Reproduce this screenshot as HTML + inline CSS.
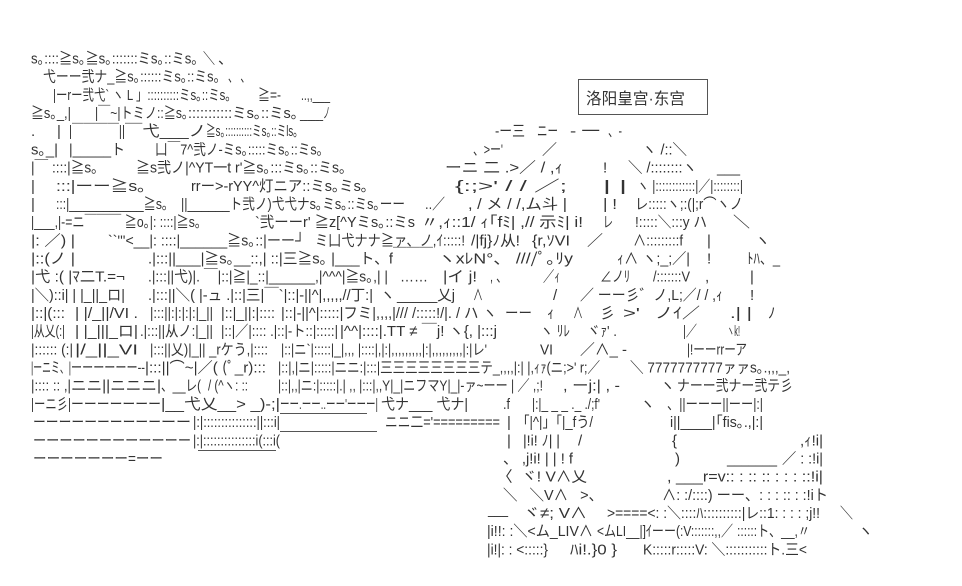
<!DOCTYPE html>
<html><head><meta charset="utf-8"><style>
html,body{margin:0;padding:0;background:#fff;width:962px;height:586px;overflow:hidden}
svg{display:block}
text{font-family:"Liberation Sans","Noto Sans CJK JP",sans-serif;font-size:15px;fill:#333;white-space:pre}
.b{font-family:"Liberation Sans","Noto Sans CJK SC",sans-serif;font-size:16px;fill:#333}
</style></head><body>
<svg width="962" height="586" viewBox="0 0 962 586" xmlns="http://www.w3.org/2000/svg">
<rect width="962" height="586" fill="#fff"/>
<rect x="578.5" y="79.5" width="129" height="35" fill="none" stroke="#555" stroke-width="1"/>
<text class="b" x="586" y="104" textLength="99" lengthAdjust="spacingAndGlyphs">洛阳皇宫·东宫</text>

<text x="31" y="63.5" textLength="167" lengthAdjust="spacingAndGlyphs">s｡::::≧s｡≧s｡:::::::ミs｡::ミs｡</text>
<text x="203" y="63.5" textLength="12" lengthAdjust="spacingAndGlyphs">＼</text>
<text x="218" y="63.5">、</text>
<text x="43" y="81.7" textLength="177" lengthAdjust="spacingAndGlyphs">弋ーー弐ナ_≧s｡::::::ミs｡::ミs｡</text>
<text x="228" y="81.7" textLength="22" lengthAdjust="spacingAndGlyphs">、 、</text>
<text x="53" y="99.9" textLength="178" lengthAdjust="spacingAndGlyphs">|ーrー弐弋` ヽ L 」::::::::::ミs｡::ミs｡</text>
<text x="258" y="99.9" textLength="23" lengthAdjust="spacingAndGlyphs">≧=-</text>
<text x="301" y="99.9" textLength="29" lengthAdjust="spacingAndGlyphs">..,,___</text>
<text x="31" y="118" textLength="40" lengthAdjust="spacingAndGlyphs">≧s｡_,|</text>
<text x="95" y="118" textLength="93" lengthAdjust="spacingAndGlyphs">|￣~|トミノ::≧s｡</text>
<text x="188" y="118" textLength="110" lengthAdjust="spacingAndGlyphs">:::::::::::ミs｡::ミs｡</text>
<text x="300" y="118" textLength="30" lengthAdjust="spacingAndGlyphs">______ノ</text>
<text x="31" y="136.2">.</text>
<text x="57" y="136.2">|</text>
<text x="69" y="136.2" textLength="56" lengthAdjust="spacingAndGlyphs">|￣￣￣￣||</text>
<text x="125" y="136.2" textLength="81" lengthAdjust="spacingAndGlyphs">￣弋___ノ</text>
<text x="206" y="136.2" textLength="92" lengthAdjust="spacingAndGlyphs">≧s｡::::::::::ミs｡::ミls｡</text>
<text x="495" y="136.2" textLength="30" lengthAdjust="spacingAndGlyphs">-ー三</text>
<text x="537" y="136.2" textLength="21" lengthAdjust="spacingAndGlyphs">ニー</text>
<text x="570" y="136.2" textLength="30" lengthAdjust="spacingAndGlyphs">- 一</text>
<text x="608" y="136.2" textLength="14" lengthAdjust="spacingAndGlyphs">、-</text>
<text x="31" y="154.4" textLength="27" lengthAdjust="spacingAndGlyphs">s｡_|</text>
<text x="69" y="154.4" textLength="56" lengthAdjust="spacingAndGlyphs">|_____ト</text>
<text x="155" y="154.4" textLength="168" lengthAdjust="spacingAndGlyphs">凵￣7^弐ノ-ミs｡:::::ミs｡::ミs｡</text>
<text x="473" y="154.4" textLength="30" lengthAdjust="spacingAndGlyphs">、&gt;ー'</text>
<text x="542" y="154.4" textLength="15" lengthAdjust="spacingAndGlyphs">／</text>
<text x="642" y="154.4" textLength="45" lengthAdjust="spacingAndGlyphs">ヽ /::＼</text>
<text x="31" y="172.6" textLength="67" lengthAdjust="spacingAndGlyphs">|￣ ::::|≧s｡</text>
<text x="136" y="172.6" textLength="210" lengthAdjust="spacingAndGlyphs">≧s弐ノ|^YT一t r'≧s｡:::ミs｡::ミs｡</text>
<text x="445" y="172.6" textLength="118" lengthAdjust="spacingAndGlyphs">ーニ 二 .&gt;／ / ,ｨ</text>
<text x="603" y="172.6">!</text>
<text x="628" y="172.6" textLength="69" lengthAdjust="spacingAndGlyphs">＼ /::::::::ヽ</text>
<text x="717" y="172.6" textLength="23" lengthAdjust="spacingAndGlyphs">___</text>
<text x="31" y="190.8">|</text>
<text x="56" y="190.8" textLength="90" lengthAdjust="spacingAndGlyphs">:::|ーー≧s｡</text>
<text x="191" y="190.8" textLength="177" lengthAdjust="spacingAndGlyphs">rrー&gt;-rYY^灯ニア::ミs｡ミs｡</text>
<text x="455" y="190.8" textLength="112" lengthAdjust="spacingAndGlyphs">{:;&gt;' / / ／;</text>
<text x="603" y="190.8" textLength="24" lengthAdjust="spacingAndGlyphs">| |</text>
<text x="637" y="190.8" textLength="106" lengthAdjust="spacingAndGlyphs">ヽ |::::::::::::|／|::::::::|</text>
<text x="31" y="208.9">|</text>
<text x="56" y="208.9" textLength="112" lengthAdjust="spacingAndGlyphs">:::|___________≧s｡</text>
<text x="181" y="208.9" textLength="224" lengthAdjust="spacingAndGlyphs">||______ト弐ノ)弋弋ナs｡ミs｡::ミs｡ーー</text>
<text x="425" y="208.9" textLength="20" lengthAdjust="spacingAndGlyphs">..／</text>
<text x="468" y="208.9" textLength="99" lengthAdjust="spacingAndGlyphs">, / メ / /,ム斗 |</text>
<text x="603" y="208.9" textLength="14" lengthAdjust="spacingAndGlyphs">| !</text>
<text x="635" y="208.9" textLength="108" lengthAdjust="spacingAndGlyphs">レ:::::ヽ;:(|;r⌒ヽノ</text>
<text x="31" y="227.1" textLength="170" lengthAdjust="spacingAndGlyphs">|___,|-=ニ￣￣￣ ≧o｡|: ::::|≧s｡</text>
<text x="255" y="227.1" textLength="160" lengthAdjust="spacingAndGlyphs">`弐ーーr' ≧z[^Yミs｡::ミs</text>
<text x="421" y="227.1" textLength="162" lengthAdjust="spacingAndGlyphs">〃,ｨ::1/ ｨ｢fﾐ| ,// 示ﾐ| i!</text>
<text x="603" y="227.1" textLength="10" lengthAdjust="spacingAndGlyphs">レ</text>
<text x="635" y="227.1" textLength="72" lengthAdjust="spacingAndGlyphs">!:::::＼:::y ハ</text>
<text x="733" y="227.1" textLength="17" lengthAdjust="spacingAndGlyphs">＼</text>
<text x="31" y="245.3" textLength="44" lengthAdjust="spacingAndGlyphs">|: ／) |</text>
<text x="108" y="245.3" textLength="197" lengthAdjust="spacingAndGlyphs">``'''&lt;__|: ::::|______≧s｡::|ーー┘</text>
<text x="315" y="245.3" textLength="150" lengthAdjust="spacingAndGlyphs">ミ凵弋ナナ≧ァ、ノ,ｲ:::::!</text>
<text x="471" y="245.3" textLength="49" lengthAdjust="spacingAndGlyphs">/|fj}ﾉ从!</text>
<text x="532" y="245.3" textLength="38" lengthAdjust="spacingAndGlyphs">{r,ｿVI</text>
<text x="587" y="245.3" textLength="16" lengthAdjust="spacingAndGlyphs">／</text>
<text x="633" y="245.3" textLength="50" lengthAdjust="spacingAndGlyphs">∧:::::::::f</text>
<text x="707" y="245.3">|</text>
<text x="755" y="245.3">ヽ</text>
<text x="31" y="263.5" textLength="44" lengthAdjust="spacingAndGlyphs">|::(ノ |</text>
<text x="148" y="263.5" textLength="245" lengthAdjust="spacingAndGlyphs">.|:::||___|≧s｡__::,| ::|三≧s｡ |___ト、f</text>
<text x="393" y="260" textLength="40" lengthAdjust="spacingAndGlyphs">￣￣￣</text>
<text x="438" y="263.5" textLength="135" lengthAdjust="spacingAndGlyphs">ヽxﾚN°、 ////ﾟ｡ﾘy</text>
<text x="617" y="263.5" textLength="73" lengthAdjust="spacingAndGlyphs">ｨ∧ ヽ;_;／|</text>
<text x="707" y="263.5">!</text>
<text x="747" y="263.5" textLength="33" lengthAdjust="spacingAndGlyphs">ﾄﾊ、_</text>
<text x="31" y="281.7" textLength="94" lengthAdjust="spacingAndGlyphs">|弋 :( |ﾏ二T.=¬</text>
<text x="148" y="281.7" textLength="240" lengthAdjust="spacingAndGlyphs">.|:::||弋)|. ￣|::|≧|_::|______,|^^^|≧s｡,| |</text>
<text x="400" y="281.7" textLength="28" lengthAdjust="spacingAndGlyphs">……</text>
<text x="443" y="281.7" textLength="34" lengthAdjust="spacingAndGlyphs">|イ j!</text>
<text x="490" y="281.7" textLength="17" lengthAdjust="spacingAndGlyphs">, 、</text>
<text x="543" y="281.7" textLength="17" lengthAdjust="spacingAndGlyphs">／ｨ</text>
<text x="600" y="281.7" textLength="30" lengthAdjust="spacingAndGlyphs">∠ノﾘ</text>
<text x="653" y="281.7" textLength="37" lengthAdjust="spacingAndGlyphs">/:::::::V</text>
<text x="705" y="281.7">,</text>
<text x="750" y="281.7">|</text>
<text x="31" y="299.8" textLength="94" lengthAdjust="spacingAndGlyphs">|＼)::i| | |_||_ロ|</text>
<text x="148" y="299.8" textLength="225" lengthAdjust="spacingAndGlyphs">.|:::||＼( |-ュ .|::|三|￣`|::|-||^|,,,,,//丁:|</text>
<text x="380" y="299.8">ヽ</text>
<text x="397" y="299.8" textLength="58" lengthAdjust="spacingAndGlyphs">_____乂j</text>
<text x="473" y="299.8" textLength="10" lengthAdjust="spacingAndGlyphs">∧</text>
<text x="553" y="299.8">/</text>
<text x="580" y="299.8" textLength="143" lengthAdjust="spacingAndGlyphs">／ ーー彡゛ノ,L;／/ / ,ｨ</text>
<text x="750" y="299.8">!</text>
<text x="31" y="318" textLength="34" lengthAdjust="spacingAndGlyphs">|::|(:::</text>
<text x="75" y="318" textLength="63" lengthAdjust="spacingAndGlyphs">| |/_||/VI .</text>
<text x="150" y="318" textLength="63" lengthAdjust="spacingAndGlyphs">|:::||:|:|:|:|_||</text>
<text x="221" y="318" textLength="54" lengthAdjust="spacingAndGlyphs">|::|_||:|::::</text>
<text x="281" y="318" textLength="216" lengthAdjust="spacingAndGlyphs">|::|-||^|:::::|フミ|,,,,|/// /:::::!/|. / ハ ヽ</text>
<text x="505" y="318" textLength="27" lengthAdjust="spacingAndGlyphs">ーー</text>
<text x="547" y="318">ｨ</text>
<text x="573" y="318" textLength="10" lengthAdjust="spacingAndGlyphs">∧</text>
<text x="600" y="318">彡</text>
<text x="623" y="318" textLength="17" lengthAdjust="spacingAndGlyphs">&gt;'</text>
<text x="655" y="318" textLength="45" lengthAdjust="spacingAndGlyphs">ノｲ／</text>
<text x="730" y="318" textLength="22" lengthAdjust="spacingAndGlyphs">.| |</text>
<text x="768" y="318">ﾉ</text>
<text x="31" y="336.2" textLength="34" lengthAdjust="spacingAndGlyphs">|从乂(:|</text>
<text x="75" y="336.2" textLength="63" lengthAdjust="spacingAndGlyphs">| |_|||_ロ|</text>
<text x="140" y="336.2" textLength="73" lengthAdjust="spacingAndGlyphs">.|:::||从ノ:|_||</text>
<text x="221" y="336.2" textLength="117" lengthAdjust="spacingAndGlyphs">|::|／|:::: .|::|-ト::|:::::|</text>
<text x="340" y="336.2" textLength="157" lengthAdjust="spacingAndGlyphs">|^^|::::|.TT ≠ ￣j! ヽ{, |:::j</text>
<text x="540" y="336.2" textLength="30" lengthAdjust="spacingAndGlyphs">ヽ ﾘﾚ</text>
<text x="587" y="336.2" textLength="30" lengthAdjust="spacingAndGlyphs">ヾｧ' .</text>
<text x="683" y="336.2" textLength="14" lengthAdjust="spacingAndGlyphs">|／</text>
<text x="727" y="336.2" textLength="13" lengthAdjust="spacingAndGlyphs">ヽk!</text>
<text x="31" y="354.4" textLength="42" lengthAdjust="spacingAndGlyphs">|:::::: (:|</text>
<text x="75" y="354.4" textLength="63" lengthAdjust="spacingAndGlyphs">|/_||_VI</text>
<text x="150" y="354.4" textLength="118" lengthAdjust="spacingAndGlyphs">|:::||乂)|_|| _rケう,|::::</text>
<text x="281" y="354.4" textLength="206" lengthAdjust="spacingAndGlyphs">|::|ニ`|:::::|_|,,, |::::|,|:|,,,,,,,,,|:|,,,,,,,,,|:|レ'</text>
<text x="540" y="354.4" textLength="13" lengthAdjust="spacingAndGlyphs">VI</text>
<text x="580" y="354.4" textLength="47" lengthAdjust="spacingAndGlyphs">／∧_ -</text>
<text x="687" y="354.4" textLength="60" lengthAdjust="spacingAndGlyphs">|!ーーrrーア</text>
<text x="31" y="372.6" textLength="40" lengthAdjust="spacingAndGlyphs">|ーニミ、|</text>
<text x="71" y="372.6" textLength="74" lengthAdjust="spacingAndGlyphs">ーーーーーー--</text>
<text x="145" y="372.6" textLength="121" lengthAdjust="spacingAndGlyphs">|:::||⌒~|／( (ﾟ_r):::</text>
<text x="278" y="372.6" textLength="322" lengthAdjust="spacingAndGlyphs">|::|,|ニ|:::::|ニニ:|:::|三三三三三三三三テ_,,,,|:| |,ｨｧ(ニ;&gt;' r;／</text>
<text x="630" y="372.6" textLength="160" lengthAdjust="spacingAndGlyphs">＼ 7777777777ァァs｡.,,,_,</text>
<text x="31" y="390.7" textLength="40" lengthAdjust="spacingAndGlyphs">|:::: :: ,|</text>
<text x="71" y="390.7" textLength="90" lengthAdjust="spacingAndGlyphs">ニニ||ニニニ|</text>
<text x="161" y="390.7" textLength="40" lengthAdjust="spacingAndGlyphs">、__レ(</text>
<text x="208" y="390.7" textLength="40" lengthAdjust="spacingAndGlyphs">/ (^ヽ: ::</text>
<text x="278" y="390.7" textLength="265" lengthAdjust="spacingAndGlyphs">|::|,,|ニ:|:::::|.| ,, |:::|,,Y|_|ニフマY|_|-ァ~ーー | ／ ,;!</text>
<text x="563" y="390.7" textLength="57" lengthAdjust="spacingAndGlyphs">, ーj:| , -</text>
<text x="660" y="390.7">ヽ</text>
<text x="677" y="390.7" textLength="116" lengthAdjust="spacingAndGlyphs">ナーー弐ナー弐テ彡</text>
<text x="31" y="408.9" textLength="40" lengthAdjust="spacingAndGlyphs">|ーニ彡|</text>
<text x="71" y="408.9" textLength="90" lengthAdjust="spacingAndGlyphs">ーーーーーーー</text>
<text x="161" y="408.9" textLength="119" lengthAdjust="spacingAndGlyphs">|__弋乂__&gt; _)-;|</text>
<text x="280" y="408.9" textLength="98" lengthAdjust="spacingAndGlyphs">ーー.ーー..ーー'ーーー|</text>
<text x="381" y="408.9" textLength="87" lengthAdjust="spacingAndGlyphs">弋ナ___ 弋ナ|</text>
<text x="503" y="408.9" textLength="7" lengthAdjust="spacingAndGlyphs">.f</text>
<text x="532" y="408.9" textLength="68" lengthAdjust="spacingAndGlyphs">|:|_ _ _ ._ ./;f'</text>
<text x="640" y="408.9">ヽ</text>
<text x="667" y="408.9" textLength="96" lengthAdjust="spacingAndGlyphs">、||ーーー||ーー|:|</text>
<text x="33" y="427.1" textLength="128" lengthAdjust="spacingAndGlyphs">ーーーーーーーーーー</text>
<text x="161" y="427.1" textLength="30" lengthAdjust="spacingAndGlyphs">ーー</text>
<text x="193" y="427.1" textLength="87" lengthAdjust="spacingAndGlyphs">|:|:::::::::::::::||:::i|</text>
<line x1="280" y1="413.5" x2="367" y2="413.5" stroke="#555" stroke-width="1"/>
<line x1="280" y1="431.5" x2="377" y2="431.5" stroke="#555" stroke-width="1"/>
<text x="385" y="427.1" textLength="115" lengthAdjust="spacingAndGlyphs">ニニ二='=========</text>
<text x="507" y="427.1">|</text>
<text x="523" y="427.1" textLength="70" lengthAdjust="spacingAndGlyphs">｢|^|」｢|_fう/</text>
<text x="670" y="427.1" textLength="93" lengthAdjust="spacingAndGlyphs">i||____|｢fis｡.,|:|</text>
<text x="33" y="445.3" textLength="158" lengthAdjust="spacingAndGlyphs">ーーーーーーーーーーーー</text>
<text x="193" y="445.3" textLength="87" lengthAdjust="spacingAndGlyphs">|:|:::::::::::::::i(:::i(</text>
<line x1="198" y1="450.5" x2="276" y2="450.5" stroke="#555" stroke-width="1"/>
<text x="507" y="445.3">|</text>
<text x="523" y="445.3" textLength="37" lengthAdjust="spacingAndGlyphs">|!i! ﾉ| |</text>
<text x="578" y="445.3">/</text>
<text x="672" y="445.3">{</text>
<text x="800" y="445.3" textLength="23" lengthAdjust="spacingAndGlyphs">,ｨ!i|</text>
<text x="33" y="463.5" textLength="130" lengthAdjust="spacingAndGlyphs">ーーーーーーー=ーー</text>
<text x="503" y="463.5" textLength="70" lengthAdjust="spacingAndGlyphs">、 ,j!i! | | ! f</text>
<text x="675" y="463.5">)</text>
<text x="727" y="463.5" textLength="50" lengthAdjust="spacingAndGlyphs">_______</text>
<text x="782" y="463.5" textLength="41" lengthAdjust="spacingAndGlyphs">／ : :!i|</text>
<text x="497" y="481.6" textLength="90" lengthAdjust="spacingAndGlyphs">〈  ヾ! V∧乂</text>
<text x="667" y="481.6" textLength="156" lengthAdjust="spacingAndGlyphs">, ___r=v:: : :: :: : : : ::!i|</text>
<text x="503" y="499.8" textLength="100" lengthAdjust="spacingAndGlyphs">＼   ＼V∧   &gt;、</text>
<text x="662" y="499.8" textLength="166" lengthAdjust="spacingAndGlyphs">∧: :/::::) ーー、: : : :: : :!iト</text>
<text x="488" y="514" textLength="20" lengthAdjust="spacingAndGlyphs">___</text>
<text x="523" y="518" textLength="64" lengthAdjust="spacingAndGlyphs">ヾ≠; V∧</text>
<text x="607" y="518" textLength="213" lengthAdjust="spacingAndGlyphs">&gt;====&lt;: :＼::::ﾊ::::::::::|レ::1: : : : ;j!!</text>
<text x="840" y="518" textLength="13" lengthAdjust="spacingAndGlyphs">＼</text>
<text x="487" y="536.2" textLength="106" lengthAdjust="spacingAndGlyphs">|i!!: :＼&lt;ム_LIV∧</text>
<text x="597" y="536.2" textLength="136" lengthAdjust="spacingAndGlyphs">&lt;ムLI__|]ｲーー(:V:::::::,,／</text>
<text x="737" y="536.2" textLength="73" lengthAdjust="spacingAndGlyphs">::::::ト、__,〃</text>
<text x="858" y="536.2">ヽ</text>
<text x="487" y="554.4" textLength="61" lengthAdjust="spacingAndGlyphs">|i!|: : &lt;:::::}</text>
<text x="570" y="554.4" textLength="47" lengthAdjust="spacingAndGlyphs">ﾊi!.}0 }</text>
<text x="643" y="554.4" textLength="164" lengthAdjust="spacingAndGlyphs">K:::::r:::::V: ＼:::::::::::ト.三&lt;</text>
</svg>
</body></html>
